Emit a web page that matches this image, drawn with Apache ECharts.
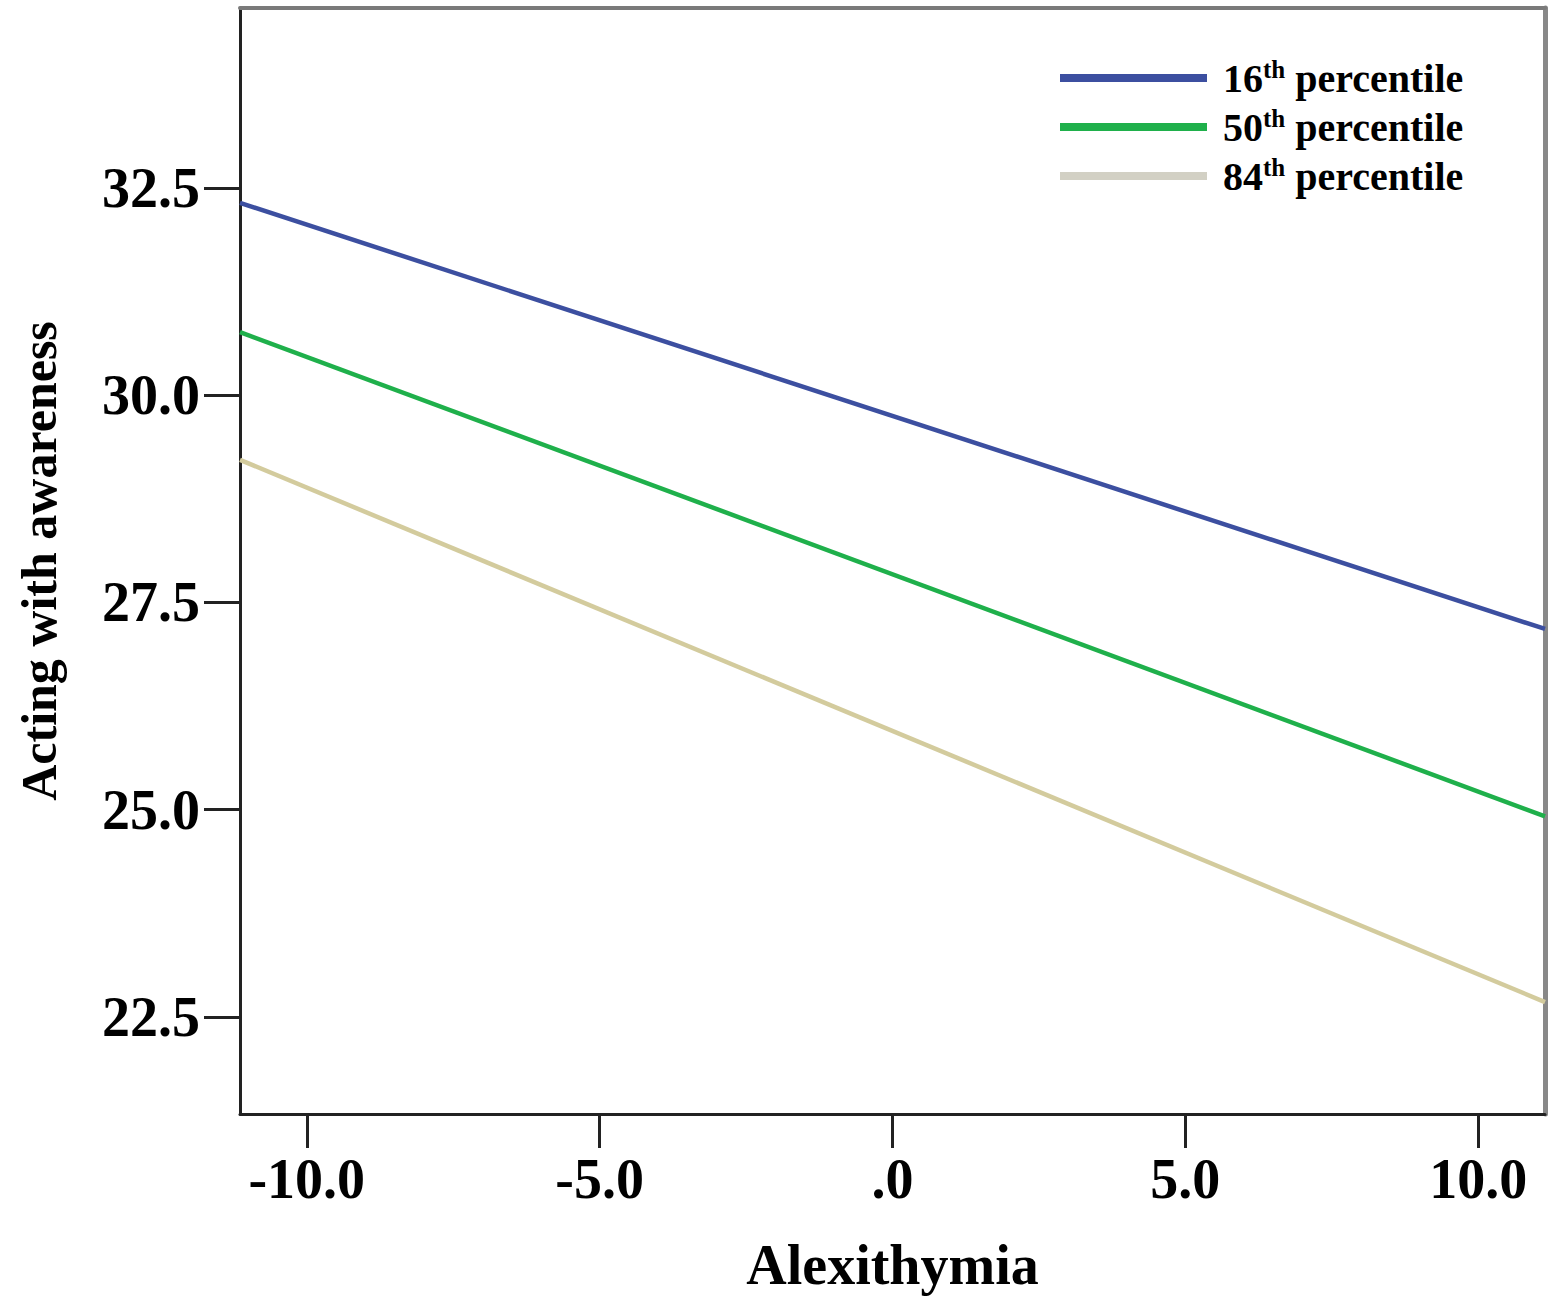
<!DOCTYPE html>
<html>
<head>
<meta charset="utf-8">
<script src="https://cdn.jsdelivr.net/npm/echarts@6/dist/echarts.min.js"></script>
<style>html,body{margin:0;padding:0;background:#fff}#c{width:1557px;height:1299px}</style>
</head>
<body>
<div id="c"></div>
<script>
const seriesNames = ['16th percentile', '50th percentile', '84th percentile'];
const xValues = [-11.14, 11.14];
const p16 = [32.32, 27.18];
const p50 = [30.76, 24.92];
const p84 = [29.22, 22.68];
const xTicks = [-10, -5, 0, 5, 10];
const yTicks = [22.5, 25, 27.5, 30, 32.5];
const xRange = [-11.14, 11.14];
const yRange = [21.33, 34.67];

const FONT = 'Liberation Serif';
const colors = ['#3c4fa0', '#1fb04b', '#d3cb9d'];
const legendColors = ['#3c4fa0', '#1fb04b', '#d2d0c4'];

const chart = echarts.init(document.getElementById('c'), null, { renderer: 'svg' });
const values = [p16, p50, p84];
chart.setOption({
  animation: false,
  backgroundColor: '#fff',
  grid: { left: 240, right: 12, top: 8, bottom: 185 },
  legend: {
    orient: 'vertical', left: 1060, top: 57, itemGap: 8, padding: 0,
    icon: 'rect', itemWidth: 147, itemHeight: 8,
    data: seriesNames.map((n, i) => ({ name: n, itemStyle: { color: legendColors[i] } })),
    formatter: function (name) {
      const m = name.match(/^(\d+)th (.*)$/);
      return '{n|' + m[1] + '}{s|th}{n| ' + m[2] + '}';
    },
    textStyle: {
      padding: [0, 0, 0, 11],
      rich: {
        n: { fontFamily: FONT, fontWeight: 'bold', fontSize: 40, color: '#000', lineHeight: 42 },
        s: { fontFamily: FONT, fontWeight: 'bold', fontSize: 25, color: '#000', lineHeight: 25, verticalAlign: 'top' }
      }
    }
  },
  xAxis: [{
    type: 'value', min: xRange[0], max: xRange[1], position: 'bottom',
    name: 'Alexithymia', nameLocation: 'middle', nameGap: 123,
    nameTextStyle: { fontFamily: FONT, fontWeight: 'bold', fontSize: 56, color: '#000' },
    axisLine: { show: true, onZero: false, lineStyle: { color: '#222', width: 3 } },
    axisTick: { show: true, length: 34, lineStyle: { color: '#222', width: 3 }, customValues: xTicks },
    axisLabel: {
      customValues: xTicks, margin: 37, color: '#000', fontFamily: FONT, fontWeight: 'bold', fontSize: 56,
      formatter: v => (v === 0 ? '.0' : v.toFixed(1))
    },
    splitLine: { show: false }
  }, {
    type: 'value', min: xRange[0], max: xRange[1], position: 'top',
    axisLine: { show: true, onZero: false, lineStyle: { color: '#7a7a7a', width: 4 } },
    axisTick: { show: false }, axisLabel: { show: false }, splitLine: { show: false }
  }],
  yAxis: [{
    type: 'value', min: yRange[0], max: yRange[1], position: 'left',
    name: 'Acting with awareness', nameLocation: 'middle', nameGap: 176,
    nameTextStyle: { fontFamily: FONT, fontWeight: 'bold', fontSize: 50, color: '#000' },
    axisLine: { show: true, onZero: false, lineStyle: { color: '#222', width: 3 } },
    axisTick: { show: true, length: 36, lineStyle: { color: '#222', width: 3 }, customValues: yTicks },
    axisLabel: {
      customValues: yTicks, margin: 40, color: '#000', fontFamily: FONT, fontWeight: 'bold', fontSize: 56,
      padding: [6, 0, 0, 0],
      formatter: v => v.toFixed(1)
    },
    splitLine: { show: false }
  }, {
    type: 'value', min: yRange[0], max: yRange[1], position: 'right',
    axisLine: { show: true, onZero: false, lineStyle: { color: '#888', width: 5 } },
    axisTick: { show: false }, axisLabel: { show: false }, splitLine: { show: false }
  }],
  series: seriesNames.map((n, i) => ({
    name: n, type: 'line', xAxisIndex: 0, yAxisIndex: 0,
    data: xValues.map((x, j) => [x, values[i][j]]),
    showSymbol: false, symbol: 'none',
    lineStyle: { color: colors[i], width: 4.5 },
    itemStyle: { color: colors[i] }
  }))
});
</script>
</body>
</html>
